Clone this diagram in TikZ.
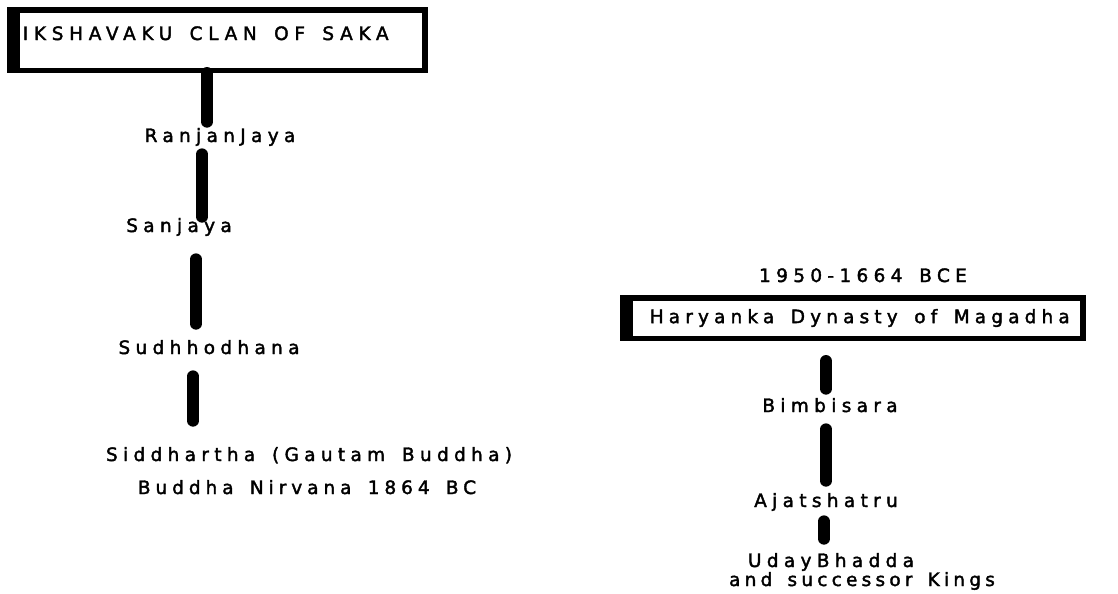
\documentclass[tikz,border=0pt]{standalone}
\usepackage{fontspec}
\setmainfont{DejaVu Sans}[LetterSpace=29,WordSpace=1.5,FakeBold=2]
\usepackage{tikz}
\usetikzlibrary{positioning,calc}
\definecolor{ink}{HTML}{000000}
\newcommand{\kingfont}{\fontsize{10.5}{12}\selectfont}
\tikzset{
  clanbox/.style={draw=ink,fill=white,line width=0.11cm,inner ysep=0pt,
                  font=\kingfont,
                  path picture={\fill[ink] (path picture bounding box.north west)
                    rectangle ([xshift=0.2cm]path picture bounding box.south west);}},
  king/.style={inner sep=0pt,text height=0.24cm,text depth=0.08cm,
               align=center,font=\kingfont},
  bar/.style={draw=ink,line width=0.24cm,line cap=round}
}

\begin{document}
\begin{tikzpicture}[x=0.02cm,y=-0.02cm]
  \useasboundingbox (0,0) rectangle (1118,593);

  % Ikshvaku line
  \node[clanbox,minimum width=8.31cm,minimum height=1.21cm,
        text height=8pt,text depth=8pt] (saka) at (217.5,40)
        {\makebox[7.79cm][l]{\addfontfeatures{LetterSpace=31}IKSHAVAKU CLAN OF SAKA}};
  \node[king] (ranjan) at (220,138) {RanjanJaya};
  \node[king] (sanjaya) at (179,228) {Sanjaya};
  \node[king] (sudh) at (209,350) {Sudhhodhana};
  \node[king] (sidd) at (309,457) {Siddhartha (Gautam Buddha)};
  \node[king] (nirvana) at (307,490) {\addfontfeatures{LetterSpace=27}Buddha Nirvana 1864 BC};

  \draw[bar,shorten >=0.16cm] (saka.south -| 207,0) -- (ranjan.north -| 207,0);
  \draw[bar,shorten <=0.16cm,shorten >=0.06cm] (ranjan.south -| 202,0) -- (sanjaya.north -| 202,0);
  \draw[bar,shorten <=0.46cm,shorten >=0.36cm] (sanjaya.south -| 196,0) -- (sudh.north -| 196,0);
  \draw[bar,shorten <=0.36cm,shorten >=0.56cm] (sudh.south -| 193,0) -- (sidd.north -| 193,0);

  % Haryanka line
  \node[king] (date) at (863,278) {1950-1664 BCE};
  \node[clanbox,minimum width=9.21cm,minimum height=0.81cm] (magadha) at (853,318)
        {\makebox[8.13cm][l]{\addfontfeatures{LetterSpace=28}Haryanka Dynasty of Magadha}};
  \node[king] (bimbi) at (830,408) {Bimbisara};
  \node[king] (ajat) at (826,503) {Ajatshatru};
  \node[king] (uday) at (831,563) {UdayBhadda};
  \node[king] (kings) at (862,582) {\addfontfeatures{LetterSpace=23}and successor Kings};

  \draw[bar,shorten <=0.4cm,shorten >=0.22cm] (magadha.south -| 826,0) -- (bimbi.north -| 826,0);
  \draw[bar,shorten <=0.26cm,shorten >=0.28cm] (bimbi.south -| 826,0) -- (ajat.north -| 826,0);
  \draw[bar,shorten <=0.2cm,shorten >=0.32cm] (ajat.south -| 824,0) -- (uday.north -| 824,0);
\end{tikzpicture}
\end{document}
